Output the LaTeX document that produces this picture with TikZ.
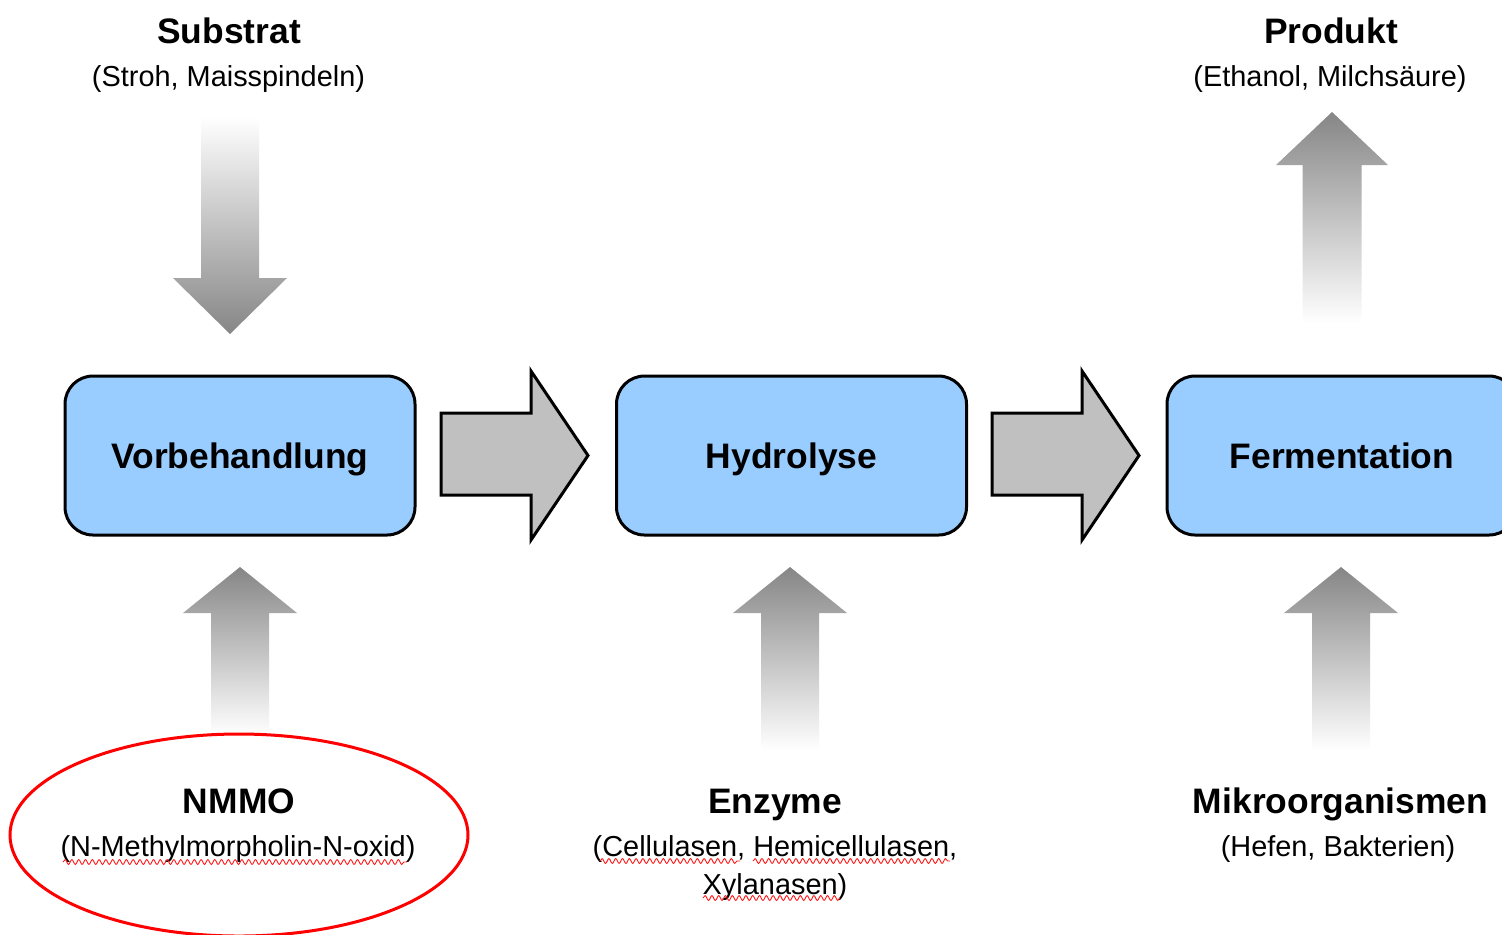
\documentclass[tikz,border=0pt]{standalone}
\usepackage{fontspec}
\setmainfont{Liberation Sans}
\usetikzlibrary{decorations.pathmorphing}
\definecolor{boxblue}{HTML}{99CCFF}
\definecolor{blockgray}{HTML}{C0C0C0}
\definecolor{arrgray}{HTML}{868686}
\tikzset{
  procbox/.style={draw=black, line width=1.5pt, fill=boxblue, rounded corners=14pt,
    minimum width=175pt, minimum height=79.5pt, inner sep=0pt,
    text height=12.7pt, text depth=0.2pt,
    font=\fontsize{17.7}{20}\selectfont\bfseries},
  headtxt/.style={anchor=base, inner sep=0pt, font=\fontsize{17.7}{20}\selectfont\bfseries},
  subtxt/.style={anchor=base, inner sep=0pt, font=\fontsize{14.45}{17}\selectfont},
  blockarr/.style={draw=black, line width=1.5pt, fill=blockgray, line join=miter},
  wavy/.style={draw=red!90, line width=0.45pt, decorate,
    decoration={snake, amplitude=1.2pt, segment length=3.4pt}},
}
% #1 centre x, #2 tip y, #3 head base y, #4 tail y
\newcommand\myuparrow[4]{%
  \shade[top color=arrgray, bottom color=white]
    ({#1},#2) -- ({#1+57},#3) -- ({#1+29},#3) -- ({#1+29},#4)
    -- ({#1-29},#4) -- ({#1-29},#3) -- ({#1-57},#3) -- cycle;}
\begin{document}
\begin{tikzpicture}[x=0.5pt,y=-0.5pt]
\clip (0,0) rectangle (1502,934);
\fill[white] (0,0) rectangle (1502,934);

% process boxes
\node[procbox] (vb) at (240,455.5) {Vorbehandlung};
\node[procbox] (hy) at (791.5,455.5) {Hydrolyse};
\node[procbox] (fe) at (1342,455.5) {Fermentation};

% block arrows between boxes
\draw[blockarr] (441,413) -- (531,413) -- (531,371) -- (588,455.5) -- (531,540) -- (531,495) -- (441,495) -- cycle;
\draw[blockarr] (992,413) -- (1082,413) -- (1082,371) -- (1139,455.5) -- (1082,540) -- (1082,495) -- (992,495) -- cycle;

% substrate arrow (down)
\shade[top color=white, bottom color=arrgray]
  (201,117) -- (259,117) -- (259,278) -- (287,278) -- (230,334) -- (173,278) -- (201,278) -- cycle;
% product arrow (up)
\shade[top color=arrgray, bottom color=white]
  (1332,112) -- (1388,165) -- (1361.5,165) -- (1361.5,323) -- (1302.5,323) -- (1302.5,165) -- (1276,165) -- cycle;
% input arrows (up)
\myuparrow{240}{567}{613}{735}
\myuparrow{790}{567}{613}{750}
\myuparrow{1341}{567}{613}{750}

% top labels
\node[headtxt] (sub) at (229,43) {Substrat};
\node[subtxt] (subd) at (228.5,86) {(Stroh, Maisspindeln)};
\node[headtxt] (pro) at (1331,43) {Produkt};
\node[subtxt] (prod) at (1330,86) {(Ethanol, Milchsäure)};

% bottom labels
\node[headtxt] (nmmo) at (239,813) {NMMO};
\node[subtxt] (nmmod) at (238,856) {(N-Methylmorpholin-N-oxid)};
\node[headtxt] (enz) at (775,813) {Enzyme};
\node[subtxt] (enzd1) at (775,856) {(Cellulasen, Hemicellulasen,};
\node[subtxt] (enzd2) at (775,894) {Xylanasen)};
\node[headtxt] (mik) at (1340.5,813) {Mikroorganismen};
\node[subtxt] (mikd) at (1338,856) {(Hefen, Bakterien)};

% spell-check underlines
\draw[wavy] (63,862) -- (407,862);
\draw[wavy] (600,861) -- (740,861);
\draw[wavy] (753,861) -- (950,861);
\draw[wavy] (703,898) -- (840,898);

% red ellipse
\draw[red, line width=1.5pt] (239,835) ellipse [x radius=229, y radius=101];
\end{tikzpicture}
\end{document}
